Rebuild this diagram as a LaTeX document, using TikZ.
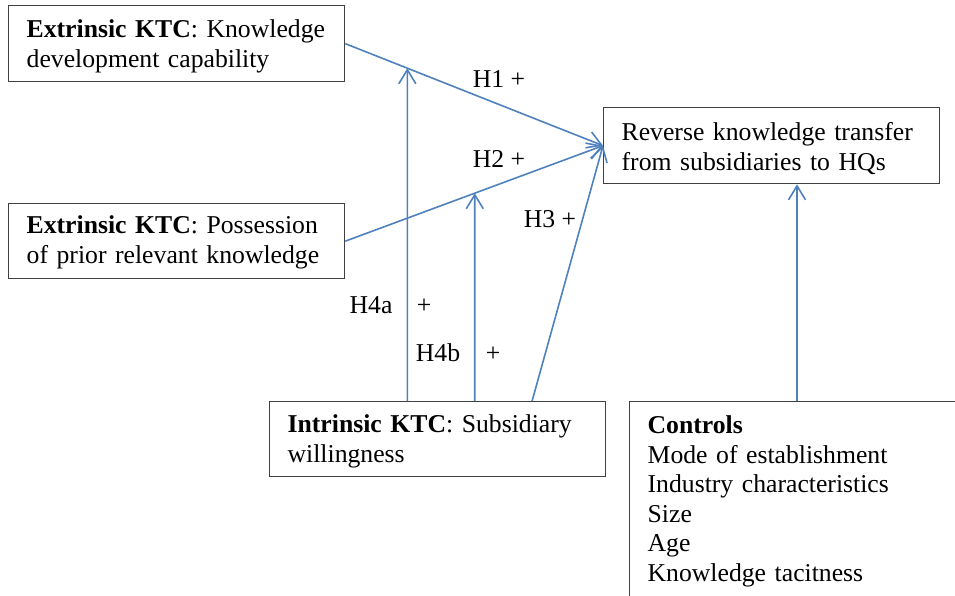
\documentclass[tikz,border=0pt]{standalone}
\usepackage{fontspec}
\setmainfont{Liberation Serif}
\usetikzlibrary{calc,arrows.meta}
\definecolor{linkblue}{RGB}{79,129,189}
\tikzstyle{box}=[draw=black!75, line width=1.3pt, anchor=north west, minimum width=336pt,
  text width=300pt, inner xsep=18pt, inner ysep=0pt, text height=32pt, text depth=44pt,
  align=left, font=\fontsize{25.7}{29.5}\selectfont]
\tikzstyle{link}=[draw=linkblue, line width=1.6pt, -{Straight Barb[length=14pt,width=17pt]}]
\tikzstyle{hyp}=[anchor=base, inner sep=0pt, font=\fontsize{25.7}{29.5}\selectfont]

\begin{document}
\begin{tikzpicture}[x=1pt, y=-1pt]
  \useasboundingbox (0,0) rectangle (955,595);
  \clip (0,0) rectangle (955,595);
  % boxes
  \node[box] (ext1) at (8,5) {\textbf{Extrinsic KTC}: Knowledge\\development capability};
  \node[box, text height=30pt, text depth=45pt] (ext2) at (8,203) {\textbf{Extrinsic KTC}: Possession\\of prior relevant knowledge};
  \node[box, text height=33pt, text depth=43pt] (rkt) at (603,107) {Reverse knowledge transfer\\from subsidiaries to HQs};
  \node[box, text height=31pt, text depth=44pt] (int) at (269,401) {\textbf{Intrinsic KTC}: Subsidiary\\willingness};
  \node[box, text depth=250pt] (ctrl) at (629,401)
    {\textbf{Controls}\\Mode of establishment\\Industry characteristics\\Size\\Age\\Knowledge tacitness};
  % points where the arrows leave the intrinsic box
  \coordinate (h4a) at ($(int.north west)!0.41!(int.north east)$);
  \coordinate (h4b) at ($(int.north west)!0.61!(int.north east)$);
  \coordinate (h3) at ($(int.north west)!0.78!(int.north east)$);
  \coordinate (h4aTop) at (h4a |- ext1.north);
  \coordinate (h4bTop) at (h4b |- ext1.north);
  \coordinate (m1) at (intersection of ext1.east--rkt.west and h4a--h4aTop);
  \coordinate (m2) at (intersection of ext2.east--rkt.west and h4b--h4bTop);
  \coordinate (ctrlOut) at (797,401);
  \coordinate (rktIn) at (ctrlOut |- rkt.south);
  \path (ext1.east) edge[link] (rkt.west)
        (ext2.east) edge[link] (rkt.west)
        (h3)        edge[link] (rkt.west)
        (h4a)       edge[link] (m1)
        (h4b)       edge[link] (m2)
        (ctrlOut)   edge[link] (rktIn);
  % labels
  \node[hyp] (h1lab) at (499,87) {H1 +};
  \node[hyp] (h2lab) at (499,167) {H2 +};
  \node[hyp] (h3lab) at (550,227) {H3 +};
  \node[hyp] (h4alab) at (371,313) {H4a};
  \node[hyp] (h4aplus) at (424,313) {+};
  \node[hyp] (h4blab) at (438,361) {H4b};
  \node[hyp] (h4bplus) at (493,361) {+};
\end{tikzpicture}
\end{document}
